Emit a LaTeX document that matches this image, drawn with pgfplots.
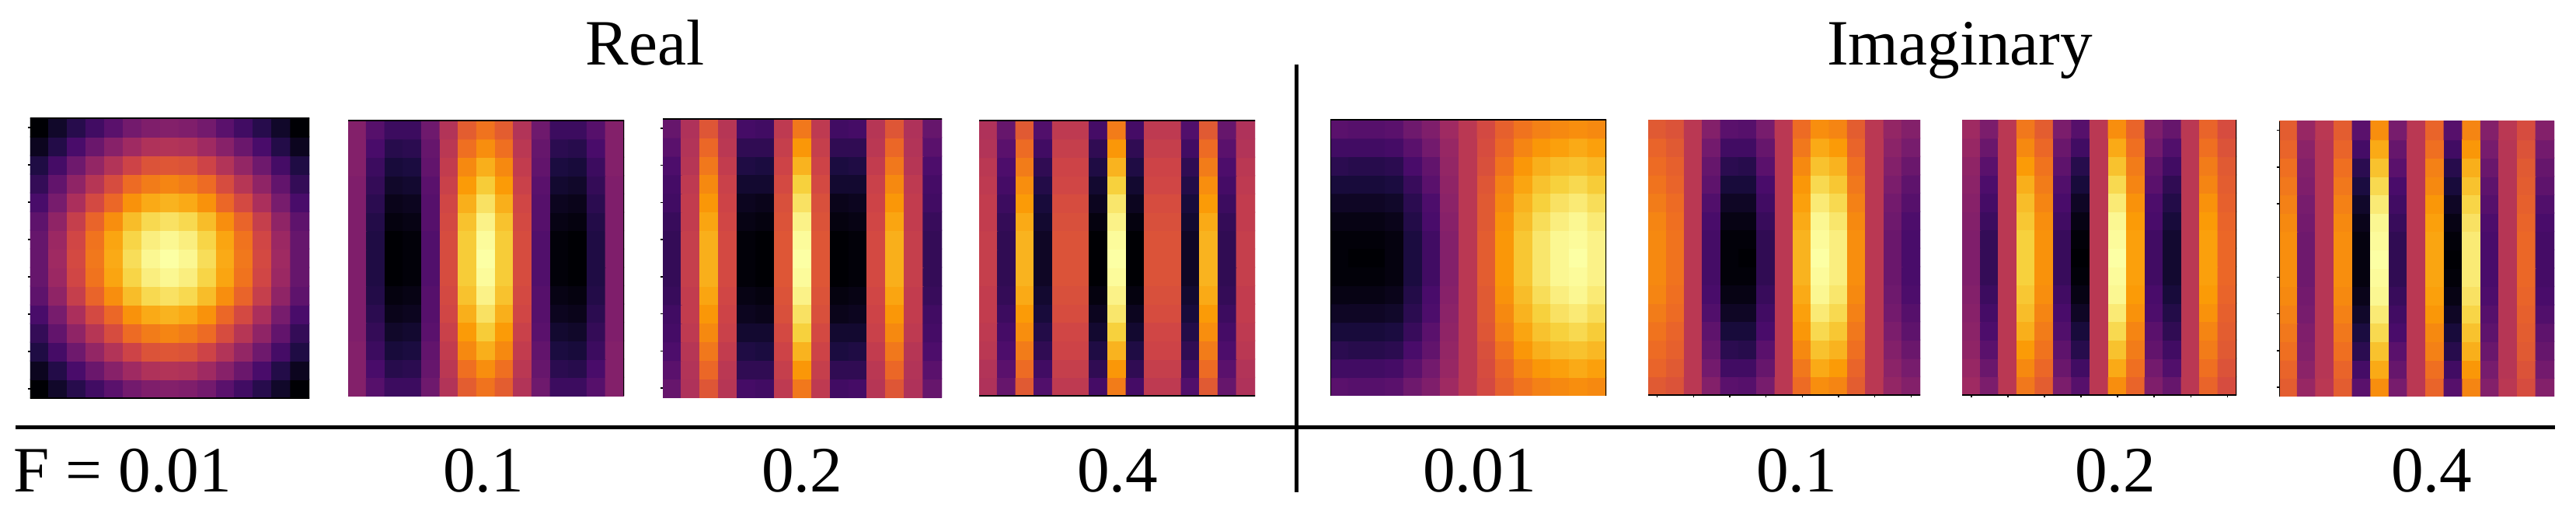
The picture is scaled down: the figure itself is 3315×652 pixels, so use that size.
\documentclass[border=0pt]{standalone}
\usepackage{pgfplots}
\pgfplotsset{compat=1.18}
\usepackage{fontspec}
\setmainfont{Liberation Serif}
\pgfplotsset{
  colormap={inferno}{rgb255=(0,0,4) rgb255=(27,12,65) rgb255=(74,12,107) rgb255=(120,28,109)
    rgb255=(165,44,96) rgb255=(207,68,70) rgb255=(237,105,37) rgb255=(251,154,6)
    rgb255=(247,208,60) rgb255=(252,255,164)},
  panel/.style={scale only axis, colormap name=inferno, point meta min=0, point meta max=100,
    xmin=-0.5, xmax=14.5, ymin=-0.5, ymax=14.5, anchor=north west,
    axis line style={draw=none}, xtick=\empty, ytick=\empty, xticklabels={}, yticklabels={},
    xtick pos=bottom, ytick pos=left,
    tick align=outside, major tick length=0.8pt, tick style={black, line width=0.35pt}},
  grid15/.style={matrix plot*, mesh/cols=15, point meta=explicit}
}
\newcommand{\Top}{\draw[black, line width=0.4pt, line cap=rect] (rel axis cs:0,1)--(rel axis cs:1,1);}
\newcommand{\Bot}{\draw[black, line width=0.4pt, line cap=rect] (rel axis cs:0,0)--(rel axis cs:1,0);}
\newcommand{\Lft}{\draw[black, line width=0.3pt] (rel axis cs:0,0)--(rel axis cs:0,1);}
\newcommand{\Rgt}{\draw[black, line width=0.3pt] (rel axis cs:1,0)--(rel axis cs:1,1);}
\tikzset{lab/.style={anchor=base, inner sep=0pt, font=\fontsize{20.8pt}{24pt}\selectfont}}
\begin{document}
\begin{tikzpicture}[x=0.25pt, y=-0.25pt]
\useasboundingbox (0,0) rectangle (3315,652);

% Real, F = 0.01
\begin{axis}[panel, at={(9.75pt,-38pt)}, width=89.75pt, height=90pt, ytick={0,2,...,14}]
\addplot[grid15] table[row sep=\\, header=false, x expr={mod(\coordindex,15)}, y expr={floor((\coordindex+0.5)/15)}, meta index=0] {
0\\7\\14\\20\\26\\32\\35\\36\\35\\32\\26\\20\\14\\7\\0\\
5\\13\\22\\30\\37\\43\\47\\48\\47\\43\\37\\30\\22\\13\\5\\
12\\21\\31\\40\\48\\55\\60\\61\\60\\55\\48\\40\\31\\21\\12\\
17\\28\\39\\49\\58\\67\\71\\73\\71\\67\\58\\49\\39\\28\\17\\
22\\33\\46\\57\\66\\76\\81\\83\\81\\76\\66\\57\\46\\33\\22\\
27\\39\\53\\65\\75\\85\\91\\93\\91\\85\\75\\65\\53\\39\\27\\
29\\42\\56\\69\\80\\90\\96\\98\\96\\90\\80\\69\\56\\42\\29\\
29\\43\\57\\70\\81\\92\\98\\100\\98\\92\\81\\70\\57\\43\\29\\
29\\42\\56\\69\\80\\90\\96\\98\\96\\90\\80\\69\\56\\42\\29\\
27\\39\\53\\65\\75\\85\\91\\93\\91\\85\\75\\65\\53\\39\\27\\
22\\33\\46\\57\\66\\76\\81\\83\\81\\76\\66\\57\\46\\33\\22\\
17\\28\\39\\49\\58\\67\\71\\73\\71\\67\\58\\49\\39\\28\\17\\
12\\21\\31\\40\\48\\55\\60\\61\\60\\55\\48\\40\\31\\21\\12\\
5\\13\\22\\30\\37\\43\\47\\48\\47\\43\\37\\30\\22\\13\\5\\
0\\7\\14\\20\\26\\32\\35\\36\\35\\32\\26\\20\\14\\7\\0\\
};
\Top \Bot
\end{axis}

% Real, F = 0.1
\begin{axis}[panel, at={(112pt,-38.75pt)}, width=88.75pt, height=88.5pt]
\addplot[grid15] table[row sep=\\, header=false, x expr={mod(\coordindex,15)}, y expr={floor((\coordindex+0.5)/15)}, meta index=0] {
36\\25\\19\\19\\31\\48\\63\\69\\63\\48\\31\\19\\19\\25\\36\\
36\\22\\14\\15\\29\\50\\68\\75\\68\\50\\29\\15\\14\\22\\36\\
36\\19\\10\\11\\28\\52\\74\\82\\74\\52\\28\\11\\10\\19\\36\\
35\\17\\7\\8\\26\\54\\78\\88\\78\\54\\26\\8\\7\\17\\35\\
35\\15\\4\\5\\25\\56\\82\\93\\82\\56\\25\\5\\4\\15\\35\\
35\\13\\2\\3\\25\\57\\86\\97\\86\\57\\25\\3\\2\\13\\35\\
35\\12\\0\\1\\24\\58\\88\\99\\88\\58\\24\\1\\0\\12\\35\\
35\\12\\0\\1\\24\\58\\88\\100\\88\\58\\24\\1\\0\\12\\35\\
35\\12\\0\\1\\24\\58\\88\\99\\88\\58\\24\\1\\0\\12\\35\\
35\\13\\2\\3\\25\\57\\86\\97\\86\\57\\25\\3\\2\\13\\35\\
35\\15\\4\\5\\25\\56\\82\\93\\82\\56\\25\\5\\4\\15\\35\\
35\\17\\7\\8\\26\\54\\78\\88\\78\\54\\26\\8\\7\\17\\35\\
36\\19\\10\\11\\28\\52\\74\\82\\74\\52\\28\\11\\10\\19\\36\\
36\\22\\14\\15\\29\\50\\68\\75\\68\\50\\29\\15\\14\\22\\36\\
36\\25\\19\\19\\31\\48\\63\\69\\63\\48\\31\\19\\19\\25\\36\\
};
\Top \Rgt
\end{axis}

% Real, F = 0.2
\begin{axis}[panel, at={(213.25pt,-38.25pt)}, width=89.75pt, height=89.5pt, ytick={0,2,...,14}]
\addplot[grid15] table[row sep=\\, header=false, x expr={mod(\coordindex,15)}, y expr={floor((\coordindex+0.5)/15)}, meta index=0] {
29\\47\\61\\49\\21\\20\\51\\70\\51\\20\\21\\49\\61\\47\\29\\
26\\48\\66\\50\\16\\16\\53\\77\\53\\16\\16\\50\\66\\48\\26\\
23\\49\\70\\52\\12\\11\\55\\83\\55\\11\\12\\52\\70\\49\\23\\
21\\51\\74\\54\\8\\8\\57\\89\\57\\8\\8\\54\\74\\51\\21\\
20\\52\\77\\55\\5\\4\\59\\93\\59\\4\\5\\55\\77\\52\\20\\
18\\52\\80\\56\\3\\2\\60\\97\\60\\2\\3\\56\\80\\52\\18\\
17\\53\\82\\57\\1\\0\\61\\99\\61\\0\\1\\57\\82\\53\\17\\
17\\53\\82\\57\\1\\0\\61\\100\\61\\0\\1\\57\\82\\53\\17\\
17\\53\\82\\57\\1\\0\\61\\99\\61\\0\\1\\57\\82\\53\\17\\
18\\52\\80\\56\\3\\2\\60\\97\\60\\2\\3\\56\\80\\52\\18\\
20\\52\\77\\55\\5\\4\\59\\93\\59\\4\\5\\55\\77\\52\\20\\
21\\51\\74\\54\\8\\8\\57\\89\\57\\8\\8\\54\\74\\51\\21\\
23\\49\\70\\52\\12\\11\\55\\83\\55\\11\\12\\52\\70\\49\\23\\
26\\48\\66\\50\\16\\16\\53\\77\\53\\16\\16\\50\\66\\48\\26\\
29\\47\\61\\49\\21\\20\\51\\70\\51\\20\\21\\49\\61\\47\\29\\
};
\Top
\end{axis}

% Real, F = 0.4
\begin{axis}[panel, at={(315pt,-38.75pt)}, width=88.75pt, height=88.5pt]
\addplot[grid15] table[row sep=\\, header=false, x expr={mod(\coordindex,15)}, y expr={floor((\coordindex+0.5)/15)}, meta index=0] {
47\\29\\62\\24\\51\\51\\21\\71\\21\\51\\51\\24\\62\\29\\47\\
48\\26\\67\\20\\53\\53\\16\\77\\16\\53\\53\\20\\67\\26\\48\\
50\\23\\71\\16\\55\\55\\12\\83\\12\\55\\55\\16\\71\\23\\50\\
51\\21\\75\\13\\56\\56\\8\\89\\8\\56\\56\\13\\75\\21\\51\\
52\\19\\78\\10\\58\\58\\5\\94\\5\\58\\58\\10\\78\\19\\52\\
52\\17\\81\\8\\59\\59\\2\\97\\2\\59\\59\\8\\81\\17\\52\\
53\\16\\83\\6\\60\\60\\0\\99\\0\\60\\60\\6\\83\\16\\53\\
53\\16\\83\\6\\60\\60\\0\\100\\0\\60\\60\\6\\83\\16\\53\\
53\\16\\83\\6\\60\\60\\0\\99\\0\\60\\60\\6\\83\\16\\53\\
52\\17\\81\\8\\59\\59\\2\\97\\2\\59\\59\\8\\81\\17\\52\\
52\\19\\78\\10\\58\\58\\5\\94\\5\\58\\58\\10\\78\\19\\52\\
51\\21\\75\\13\\56\\56\\8\\89\\8\\56\\56\\13\\75\\21\\51\\
50\\23\\71\\16\\55\\55\\12\\83\\12\\55\\55\\16\\71\\23\\50\\
48\\26\\67\\20\\53\\53\\16\\77\\16\\53\\53\\20\\67\\26\\48\\
47\\29\\62\\24\\51\\51\\21\\71\\21\\51\\51\\24\\62\\29\\47\\
};
\Top \Bot
\end{axis}

% Imaginary, F = 0.01
\begin{axis}[panel, at={(428pt,-38.5pt)}, width=88.75pt, height=88.75pt]
\addplot[grid15] table[row sep=\\, header=false, x expr={mod(\coordindex,15)}, y expr={floor((\coordindex+0.5)/15)}, meta index=0] {
26\\25\\25\\26\\31\\35\\43\\50\\57\\64\\69\\72\\74\\75\\74\\
20\\20\\20\\21\\26\\32\\41\\50\\58\\66\\73\\77\\79\\81\\79\\
15\\14\\14\\15\\22\\28\\40\\50\\59\\69\\77\\82\\85\\86\\84\\
10\\10\\10\\11\\18\\26\\39\\50\\61\\72\\80\\86\\89\\91\\88\\
6\\6\\6\\7\\15\\23\\38\\50\\62\\74\\83\\89\\93\\95\\92\\
3\\3\\3\\4\\13\\22\\37\\50\\62\\76\\85\\92\\96\\98\\95\\
1\\1\\1\\2\\11\\20\\36\\50\\63\\77\\87\\94\\98\\99\\97\\
1\\0\\0\\2\\11\\20\\36\\50\\63\\77\\87\\94\\98\\100\\97\\
1\\1\\1\\2\\11\\20\\36\\50\\63\\77\\87\\94\\98\\99\\97\\
3\\3\\3\\4\\13\\22\\37\\50\\62\\76\\85\\92\\96\\98\\95\\
6\\6\\6\\7\\15\\23\\38\\50\\62\\74\\83\\89\\93\\95\\92\\
10\\10\\10\\11\\18\\26\\39\\50\\61\\72\\80\\86\\89\\91\\88\\
15\\14\\14\\15\\22\\28\\40\\50\\59\\69\\77\\82\\85\\86\\84\\
20\\20\\20\\21\\26\\32\\41\\50\\58\\66\\73\\77\\79\\81\\79\\
26\\25\\25\\26\\31\\35\\43\\50\\57\\64\\69\\72\\74\\75\\74\\
};
\Top \Lft \Rgt
\end{axis}

% Imaginary, F = 0.1
\begin{axis}[panel, at={(530.25pt,-38.5pt)}, width=87.5pt, height=88.5pt, xtick={0,2,...,14}]
\addplot[grid15] table[row sep=\\, header=false, x expr={mod(\coordindex,15)}, y expr={floor((\coordindex+0.5)/15)}, meta index=0] {
62\\60\\50\\36\\26\\25\\33\\50\\67\\75\\73\\63\\50\\40\\36\\
65\\62\\50\\32\\20\\20\\29\\50\\70\\81\\78\\65\\50\\38\\33\\
67\\64\\50\\29\\15\\14\\26\\50\\74\\86\\83\\68\\50\\36\\30\\
69\\65\\50\\27\\10\\10\\22\\50\\77\\91\\87\\70\\50\\34\\27\\
71\\67\\50\\24\\6\\6\\20\\50\\79\\95\\91\\72\\50\\32\\25\\
73\\68\\50\\22\\3\\3\\18\\50\\81\\98\\94\\74\\50\\31\\23\\
74\\69\\50\\21\\1\\1\\16\\50\\83\\99\\96\\75\\50\\30\\22\\
74\\69\\50\\21\\1\\0\\16\\50\\83\\100\\96\\75\\50\\30\\22\\
74\\69\\50\\21\\1\\1\\16\\50\\83\\99\\96\\75\\50\\30\\22\\
73\\68\\50\\22\\3\\3\\18\\50\\81\\98\\94\\74\\50\\31\\23\\
71\\67\\50\\24\\6\\6\\20\\50\\79\\95\\91\\72\\50\\32\\25\\
69\\65\\50\\27\\10\\10\\22\\50\\77\\91\\87\\70\\50\\34\\27\\
67\\64\\50\\29\\15\\14\\26\\50\\74\\86\\83\\68\\50\\36\\30\\
65\\62\\50\\32\\20\\20\\29\\50\\70\\81\\78\\65\\50\\38\\33\\
62\\60\\50\\36\\26\\25\\33\\50\\67\\75\\73\\63\\50\\40\\36\\
};
\Bot
\end{axis}

% Imaginary, F = 0.2
\begin{axis}[panel, at={(631.25pt,-38.5pt)}, width=88.25pt, height=88.5pt, xtick={0,2,...,14}]
\addplot[grid15] table[row sep=\\, header=false, x expr={mod(\coordindex,15)}, y expr={floor((\coordindex+0.5)/15)}, meta index=0] {
43\\34\\50\\70\\63\\34\\25\\50\\75\\65\\35\\29\\50\\65\\58\\
41\\30\\50\\74\\66\\30\\20\\50\\81\\68\\32\\24\\50\\68\\60\\
39\\26\\50\\78\\69\\27\\14\\50\\86\\71\\28\\20\\50\\71\\62\\
38\\23\\50\\82\\71\\24\\10\\50\\91\\73\\26\\16\\50\\73\\63\\
37\\21\\50\\85\\73\\22\\6\\50\\95\\76\\23\\13\\50\\76\\64\\
36\\19\\50\\87\\75\\20\\3\\50\\98\\78\\22\\10\\50\\78\\65\\
35\\17\\50\\89\\76\\18\\1\\50\\99\\79\\20\\8\\50\\79\\66\\
35\\17\\50\\89\\76\\18\\0\\50\\100\\79\\20\\8\\50\\79\\66\\
35\\17\\50\\89\\76\\18\\1\\50\\99\\79\\20\\8\\50\\79\\66\\
36\\19\\50\\87\\75\\20\\3\\50\\98\\78\\22\\10\\50\\78\\65\\
37\\21\\50\\85\\73\\22\\6\\50\\95\\76\\23\\13\\50\\76\\64\\
38\\23\\50\\82\\71\\24\\10\\50\\91\\73\\26\\16\\50\\73\\63\\
39\\26\\50\\78\\69\\27\\14\\50\\86\\71\\28\\20\\50\\71\\62\\
41\\30\\50\\74\\66\\30\\20\\50\\81\\68\\32\\24\\50\\68\\60\\
43\\34\\50\\70\\63\\34\\25\\50\\75\\65\\35\\29\\50\\65\\58\\
};
\Bot \Rgt
\end{axis}

% Imaginary, F = 0.4
\begin{axis}[panel, at={(733.25pt,-39pt)}, width=88.5pt, height=88.5pt, ytick={0,2,4,6,10,12,14}]
\addplot[grid15] table[row sep=\\, header=false, x expr={mod(\coordindex,15)}, y expr={floor((\coordindex+0.5)/15)}, meta index=0] {
63\\41\\50\\63\\26\\75\\33\\50\\65\\25\\73\\36\\50\\58\\36\\
65\\38\\49\\65\\21\\81\\29\\50\\68\\20\\77\\33\\49\\60\\32\\
68\\36\\49\\68\\15\\86\\26\\50\\72\\14\\82\\30\\49\\62\\29\\
70\\35\\49\\70\\11\\91\\22\\50\\74\\10\\86\\27\\49\\63\\27\\
72\\33\\49\\72\\7\\95\\20\\50\\77\\6\\90\\25\\49\\64\\24\\
74\\32\\49\\74\\4\\98\\18\\50\\79\\3\\93\\23\\49\\65\\22\\
75\\31\\49\\75\\2\\99\\16\\50\\80\\1\\95\\22\\49\\66\\21\\
75\\31\\49\\75\\2\\100\\16\\50\\80\\0\\95\\22\\49\\66\\21\\
75\\31\\49\\75\\2\\99\\16\\50\\80\\1\\95\\22\\49\\66\\21\\
74\\32\\49\\74\\4\\98\\18\\50\\79\\3\\93\\23\\49\\65\\22\\
72\\33\\49\\72\\7\\95\\20\\50\\77\\6\\90\\25\\49\\64\\24\\
70\\35\\49\\70\\11\\91\\22\\50\\74\\10\\86\\27\\49\\63\\27\\
68\\36\\49\\68\\15\\86\\26\\50\\72\\14\\82\\30\\49\\62\\29\\
65\\38\\49\\65\\21\\81\\29\\50\\68\\20\\77\\33\\49\\60\\32\\
63\\41\\50\\63\\26\\75\\33\\50\\65\\25\\73\\36\\50\\58\\36\\
};
\Lft
\end{axis}

% rules
\draw[black, line width=1.25pt] (20,549.5)--(3288,549.5);
\draw[black, line width=1.25pt] (1668,83)--(1668,633);

% headers
\node[lab] at (830,84) {Real};
\node[lab] at (2522,84) {Imaginary};
\node[lab] at (158,632) {F = 0.01};
\node[lab] at (622,632) {0.1};
\node[lab] at (1032,632) {0.2};
\node[lab] at (1438,632) {0.4};
\node[lab] at (1904,632) {0.01};
\node[lab] at (2312,632) {0.1};
\node[lab] at (2722,632) {0.2};
\node[lab] at (3129,632) {0.4};
\end{tikzpicture}
\end{document}
